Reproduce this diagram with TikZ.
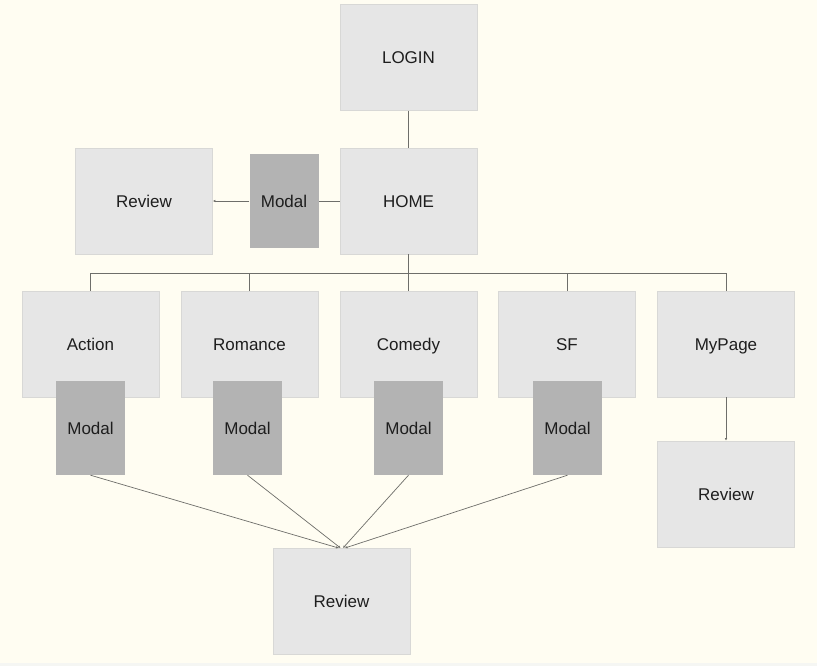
\documentclass[tikz,border=0pt]{standalone}
\usepackage{fontspec}
\setmainfont{Liberation Sans}
\usetikzlibrary{arrows.meta}
\definecolor{bg}{HTML}{FFFDF2}
\definecolor{boxfill}{HTML}{E6E6E6}
\definecolor{boxline}{HTML}{D8D8D6}
\definecolor{modalfill}{HTML}{B3B3B3}
\definecolor{conn}{HTML}{6E6E6A}
\definecolor{txt}{HTML}{1E1E1E}
\definecolor{strip}{HTML}{F5F6F3}
\begin{document}
\begin{tikzpicture}[x=1pt,y=-1pt,
  lbl/.style={text=txt,font=\fontsize{17}{19}\selectfont,text height=13pt,text depth=0pt},
  page/.style={lbl,draw=boxline,line width=0.6pt,fill=boxfill,minimum width=137pt,minimum height=106pt,inner sep=0pt},
  modal/.style={lbl,fill=modalfill,minimum width=69pt,minimum height=94pt,inner sep=0pt},
  link/.style={draw=conn,line width=0.7pt},
  arr/.style={link,-{Latex[length=2.5pt,width=2.5pt]}}]
\fill[bg] (0,0) rectangle (817,666);
\fill[strip] (0,663) rectangle (817,666);
\useasboundingbox (0,0) rectangle (817,666);
% top
\node[page] (login) at (408.5,57.5) {LOGIN};
\node[page] (home) at (408.5,201) {HOME};
\node[page] (revl) at (144,201) {Review};
\node[modal] (mtop) at (284,201) {Modal};
% categories
\node[page] (action) at (90.5,344) {Action};
\node[page] (romance) at (249.5,344) {Romance};
\node[page] (comedy) at (408.5,344) {Comedy};
\node[page] (sf) at (567,344) {SF};
\node[page] (mypage) at (726,344) {MyPage};
\node[modal] (ma) at (90.5,428) {Modal};
\node[modal] (mr) at (247.5,428) {Modal};
\node[modal] (mc) at (408.5,428) {Modal};
\node[modal] (ms) at (567.5,428) {Modal};
\node[page] (revr) at (726,494) {Review};
\node[page] (revb) at (341.5,601) {Review};
% connectors
\draw[link] (login) -- (home);
\draw[link] (home) -- (mtop);
\draw[arr] (mtop) -- (revl);
\draw[link] (home.south) -- ++(0,19) coordinate (bus);
\draw[link] (action.north) |- (mypage.north |- bus) -- (mypage.north);
\draw[link] (romance.north) -- (romance.north |- bus);
\draw[link] (comedy.north) -- (comedy.north |- bus);
\draw[link] (sf.north) -- (sf.north |- bus);
\draw[arr] (mypage) -- (revr);
\coordinate (t1) at (338.5,548);
\coordinate (t2) at (340.5,548);
\coordinate (t3) at (343,548);
\coordinate (t4) at (345,548);
\draw[arr] (ma.south) -- (t1);
\draw[arr] (mr.south) -- (t2);
\draw[arr] (mc.south) -- (t3);
\draw[arr] (ms.south) -- (t4);
\end{tikzpicture}
\end{document}
